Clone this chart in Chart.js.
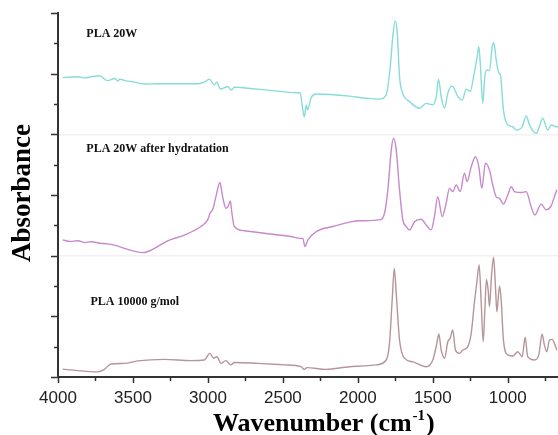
<!DOCTYPE html>
<html>
<head>
<meta charset="utf-8">
<script src="https://cdn.jsdelivr.net/npm/chart.js@4/dist/chart.umd.min.js"></script>
<style>
  html, body { margin: 0; padding: 0; background: #fff; }
  canvas { display: block; }
</style>
</head>
<body>
<canvas id="ftir" width="558" height="435"></canvas>
<script>
// ===== Data (wavenumber in cm-1, absorbance in stacked units) =====
const seriesNames = ["PLA 20W", "PLA 20W after hydratation", "PLA 10000 g/mol"];

const wnTop = [3969, 3869, 3820, 3780, 3724, 3669, 3622, 3600, 3589, 3549, 3491, 3424, 3335, 3069, 3024, 2991, 2957, 2942, 2915, 2869, 2842, 2824, 2669, 2402, 2384, 2367, 2357, 2344, 2335, 2311, 2277, 2055, 1944, 1855, 1811, 1784, 1767, 1751, 1737, 1722, 1700, 1655, 1589, 1544, 1500, 1477, 1462, 1444, 1422, 1400, 1377, 1362, 1333, 1304, 1277, 1251, 1222, 1204, 1193, 1182, 1167, 1153, 1140, 1122, 1104, 1093, 1077, 1060, 1049, 1029, 1000, 967, 944, 904, 877, 855, 811, 789, 767, 733, 711, 677, 665];
const absTop = [9.87, 9.90, 9.86, 9.90, 9.93, 9.77, 9.84, 9.76, 9.82, 9.77, 9.72, 9.66, 9.67, 9.67, 9.72, 9.82, 9.63, 9.72, 9.49, 9.57, 9.46, 9.55, 9.49, 9.37, 9.35, 8.80, 8.58, 8.97, 8.80, 9.22, 9.33, 9.26, 9.19, 9.16, 9.30, 10.23, 11.22, 11.74, 11.33, 9.90, 9.35, 9.08, 8.86, 9.02, 8.97, 9.24, 9.82, 9.24, 8.86, 9.35, 9.59, 9.55, 9.24, 9.13, 9.49, 9.41, 10.07, 10.56, 10.89, 10.23, 9.02, 9.90, 10.12, 10.10, 10.89, 11.02, 10.45, 10.03, 9.96, 8.80, 8.31, 8.25, 8.14, 8.25, 8.61, 8.31, 8.03, 8.25, 8.53, 8.14, 8.31, 8.25, 8.25];

const wnMid = [3969, 3920, 3869, 3820, 3780, 3720, 3669, 3610, 3557, 3435, 3357, 3269, 3157, 3047, 3002, 2984, 2969, 2947, 2920, 2902, 2880, 2864, 2851, 2840, 2824, 2757, 2624, 2447, 2384, 2367, 2353, 2333, 2277, 2167, 1989, 1855, 1822, 1800, 1777, 1762, 1744, 1722, 1700, 1677, 1655, 1622, 1577, 1544, 1511, 1489, 1467, 1437, 1411, 1389, 1367, 1344, 1317, 1289, 1271, 1244, 1215, 1193, 1173, 1149, 1122, 1100, 1077, 1055, 1029, 1000, 977, 955, 911, 877, 844, 820, 777, 744, 711, 689, 673];
const absMid = [4.52, 4.47, 4.49, 4.43, 4.46, 4.41, 4.39, 4.33, 4.24, 4.10, 4.24, 4.49, 4.68, 4.96, 5.18, 5.42, 5.51, 5.94, 6.41, 5.94, 5.56, 5.64, 5.80, 5.40, 4.96, 4.82, 4.74, 4.63, 4.57, 4.57, 4.30, 4.52, 4.79, 4.96, 5.15, 5.18, 5.40, 6.17, 7.48, 7.87, 7.48, 6.17, 5.18, 4.96, 4.85, 5.12, 5.20, 5.01, 4.85, 5.29, 5.94, 5.29, 5.73, 6.22, 6.11, 6.33, 6.11, 6.72, 6.44, 6.93, 7.26, 6.93, 6.22, 7.05, 6.82, 6.33, 5.94, 5.89, 5.70, 6.00, 6.27, 6.11, 6.08, 6.11, 5.61, 5.34, 5.70, 5.51, 5.64, 5.94, 6.17];

const wnBot = [3969, 3869, 3735, 3691, 3647, 3557, 3469, 3291, 3113, 3024, 2987, 2962, 2940, 2913, 2880, 2847, 2824, 2669, 2491, 2380, 2357, 2340, 2211, 2055, 1877, 1811, 1789, 1771, 1757, 1744, 1722, 1689, 1633, 1544, 1500, 1473, 1460, 1444, 1422, 1400, 1384, 1367, 1349, 1322, 1300, 1267, 1244, 1222, 1207, 1191, 1178, 1164, 1153, 1142, 1131, 1122, 1109, 1095, 1082, 1073, 1055, 1044, 1029, 1000, 967, 933, 904, 884, 867, 822, 793, 771, 756, 740, 722, 704, 689, 673];
const absBot = [0.26, 0.21, 0.17, 0.25, 0.43, 0.45, 0.53, 0.58, 0.54, 0.56, 0.78, 0.62, 0.67, 0.45, 0.54, 0.40, 0.48, 0.45, 0.40, 0.34, 0.25, 0.31, 0.25, 0.34, 0.40, 0.56, 1.11, 2.54, 3.58, 2.76, 1.22, 0.62, 0.50, 0.34, 0.56, 1.11, 1.42, 0.89, 0.62, 1.16, 1.28, 1.55, 0.89, 0.78, 0.89, 1.00, 1.44, 2.48, 3.09, 3.69, 2.54, 1.16, 2.21, 3.22, 2.87, 2.32, 3.31, 3.95, 2.98, 2.15, 3.00, 2.54, 1.22, 0.73, 0.69, 0.83, 0.67, 1.31, 0.67, 0.56, 0.73, 1.42, 1.06, 0.83, 1.22, 1.24, 1.11, 0.89];

// axis ticks
const xTicks = [4000, 3750, 3500, 3250, 3000, 2750, 2500, 2250, 2000, 1750, 1500, 1250, 1000, 750];
const xTickLabels = [4000, 3500, 3000, 2500, 2000, 1500, 1000];
const yTicks = [0, 1, 2, 3, 4, 5, 6, 7, 8, 9, 10, 11, 12];
const panelEdges = [4, 8];

const colors = ["#86dcd8", "#c788cc", "#b5959a"];

function toPoints(wn, ab) {
  return wn.map((w, i) => ({ x: w, y: ab[i] }));
}

// ===== Plugin: ticks, titles, panel labels =====
const decorPlugin = {
  id: "decor",
  afterDraw(chart) {
    const ctx = chart.ctx;
    const xs = chart.scales.x, ys = chart.scales.y;
    const area = chart.chartArea;
    ctx.save();
    ctx.strokeStyle = "#333";
    ctx.lineWidth = 1.5;

    // y tick marks
    yTicks.forEach(v => {
      const py = Math.round(ys.getPixelForValue(v)) + 0.5;
      const len = v % 2 === 0 ? 7 : 4;
      ctx.beginPath();
      ctx.moveTo(area.left - len, py);
      ctx.lineTo(area.left, py);
      ctx.stroke();
    });

    // x tick marks
    xTicks.forEach(v => {
      const px = Math.round(xs.getPixelForValue(v)) + 0.5;
      const len = v % 500 === 0 ? 6 : 4;
      ctx.beginPath();
      ctx.moveTo(px, area.bottom);
      ctx.lineTo(px, area.bottom + len);
      ctx.stroke();
    });

    // panel labels
    ctx.fillStyle = "#111";
    ctx.font = 'bold 12px "Liberation Serif"';
    ctx.textBaseline = "middle";
    ctx.textAlign = "left";
    const labelPos = [[3811, 11.31], [3811, 7.52], [3784, 2.48]];
    seriesNames.forEach((name, i) => {
      ctx.fillText(name, xs.getPixelForValue(labelPos[i][0]), ys.getPixelForValue(labelPos[i][1]));
    });

    // y title
    ctx.save();
    ctx.translate(23, 193);
    ctx.rotate(-Math.PI / 2);
    ctx.font = 'bold 27px "Liberation Serif"';
    ctx.textAlign = "center";
    ctx.textBaseline = "middle";
    ctx.fillStyle = "#000";
    ctx.fillText("Absorbance", 0, 0);
    ctx.restore();

    // x title with superscript
    ctx.fillStyle = "#000";
    ctx.textBaseline = "alphabetic";
    ctx.font = 'bold 26px "Liberation Serif"';
    let x0 = 213;
    const base = "Wavenumber (cm";
    ctx.fillText(base, x0, 431);
    x0 += ctx.measureText(base).width + 1;
    ctx.font = 'bold 15px "Liberation Serif"';
    ctx.fillText("-1", x0, 420);
    x0 += ctx.measureText("-1").width + 1;
    ctx.font = 'bold 26px "Liberation Serif"';
    ctx.fillText(")", x0, 431);

    ctx.restore();
  }
};

new Chart(document.getElementById("ftir"), {
  type: "line",
  data: {
    datasets: [
      { label: seriesNames[0], data: toPoints(wnTop, absTop), borderColor: colors[0] },
      { label: seriesNames[1], data: toPoints(wnMid, absMid), borderColor: colors[1] },
      { label: seriesNames[2], data: toPoints(wnBot, absBot), borderColor: colors[2] }
    ]
  },
  options: {
    responsive: false,
    animation: false,
    parsing: false,
    layout: { padding: { top: 13, right: 0, left: 0, bottom: 0 } },
    elements: {
      line: { borderWidth: 1.4, cubicInterpolationMode: "monotone" },
      point: { radius: 0 }
    },
    plugins: {
      legend: { display: false },
      tooltip: { enabled: false }
    },
    scales: {
      x: {
        type: "linear",
        reverse: true,
        min: 665,
        max: 4000,
        afterBuildTicks: s => { s.ticks = xTicks.map(v => ({ value: v })); },
        afterFit: s => { s.height = 58; },
        grid: { drawOnChartArea: false, drawTicks: false },
        border: { color: "#333", width: 2 },
        ticks: {
          padding: 11,
          autoSkip: false,
          maxRotation: 0,
          color: "#222",
          font: { family: '"Liberation Sans", Arial, sans-serif', size: 17 },
          callback: v => xTickLabels.includes(v) ? String(v) : ""
        }
      },
      y: {
        type: "linear",
        min: 0,
        max: 12,
        afterBuildTicks: s => { s.ticks = yTicks.map(v => ({ value: v })); },
        afterFit: s => { s.width = 58; },
        grid: {
          drawTicks: false,
          color: c => panelEdges.includes(c.tick.value) ? "#f1f1f1" : "rgba(0,0,0,0)",
          lineWidth: 1.5
        },
        border: { color: "#333", width: 2 },
        ticks: { display: false }
      }
    }
  },
  plugins: [decorPlugin]
});
</script>
</body>
</html>
